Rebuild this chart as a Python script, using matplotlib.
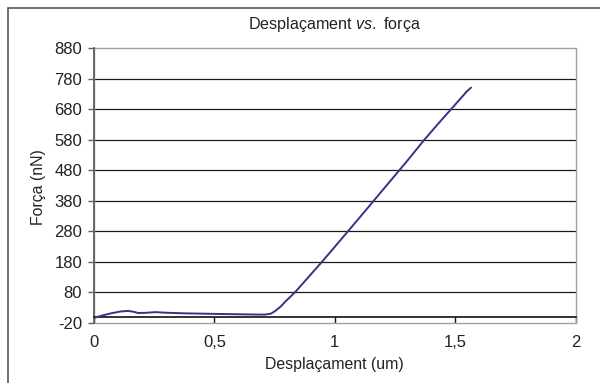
import matplotlib
matplotlib.use("Agg")
import matplotlib.pyplot as plt
from matplotlib.patches import Rectangle

plt.rcParams['font.family'] = ['Liberation Sans', 'DejaVu Sans']
plt.rcParams['mathtext.fontset'] = 'custom'
plt.rcParams['mathtext.it'] = 'Liberation Sans:italic'
plt.rcParams['mathtext.rm'] = 'Liberation Sans'
plt.rcParams['axes.unicode_minus'] = False

# Data (displacement in um, force in nN)
desplacament = [0.0, 0.03, 0.07, 0.11, 0.143, 0.165, 0.184, 0.22, 0.254, 0.30,
                0.378, 0.45, 0.516, 0.60, 0.68, 0.711, 0.735, 0.753, 0.775,
                0.794, 0.815, 0.836, 0.90, 0.947, 1.0, 1.1, 1.2, 1.3, 1.372,
                1.43, 1.483, 1.52, 1.549, 1.566]
forca = [-4, 3, 11, 17, 19, 16, 12, 13, 15, 13,
         11, 10, 9, 8, 7, 7, 10, 19, 33,
         49, 65, 81, 138, 180, 229, 322, 416, 510, 580,
         633, 680, 713, 739, 751]

x_ticks = [0, 0.5, 1, 1.5, 2]
x_ticklabels = ['0', '0,5', '1', '1,5', '2']
y_ticks = [-20, 80, 180, 280, 380, 480, 580, 680, 780, 880]

W, H = 600, 383
fig = plt.figure(figsize=(W / 100, H / 100), dpi=100)

# outer chart frame (extends beyond right/bottom edge)
fig.patches.append(Rectangle((8 / W, -0.1), 1.2, 1 - 8 / H + 0.1,
                             transform=fig.transFigure, fill=False,
                             edgecolor='#555555', linewidth=1.2))

left, right, top, bottom = 94 / W, 575.5 / W, 1 - 48.3 / H, 1 - 322.8 / H
ax = fig.add_axes([left, bottom, right - left, top - bottom])
ax.set_xlim(0, 2)
ax.set_ylim(-20, 880)

# gridlines
for yv in y_ticks[1:-1]:
    ax.axhline(yv, color='#1a1a1a', linewidth=0.9, zorder=1)

# plot area border
ax.add_patch(Rectangle((0, 0), 1, 1, transform=ax.transAxes, fill=False,
                       edgecolor='#a0a0a0', linewidth=1.0, clip_on=False, zorder=2))

ax.plot(desplacament, forca, color='#333388', linewidth=1.4, zorder=3,
        solid_capstyle='round', solid_joinstyle='round')

for s in ['top', 'right']:
    ax.spines[s].set_visible(False)
ax.spines['left'].set_color('#606060')
ax.spines['left'].set_linewidth(1.3)
ax.spines['bottom'].set_position(('data', 0))
ax.spines['bottom'].set_color('#111111')
ax.spines['bottom'].set_linewidth(1.2)

ax.set_xticks(x_ticks)
ax.set_xticklabels(x_ticklabels)
ax.set_yticks(y_ticks)
ax.tick_params(axis='x', direction='out', length=4.5, width=1.0, color='#111111',
               pad=9, labelsize=12, labelcolor='#222222')
ax.tick_params(axis='y', direction='out', length=4.5, width=1.0, color='#606060',
               pad=4, labelsize=12, labelcolor='#222222')

ax.set_facecolor('white')

fig.text((left + right) / 2, 1 - 25 / H, r'Desplaçament $\mathit{vs.}$ força',
         ha='center', va='center', fontsize=11.6, color='#222222')
fig.text((left + right) / 2, 1 - 365 / H, 'Desplaçament (um)',
         ha='center', va='center', fontsize=11.4, color='#222222')
fig.text(39 / W, 1 - 187 / H, 'Força (nN)', rotation=90,
         ha='center', va='center', fontsize=11.4, color='#222222')

fig.savefig('out.png', dpi=100)
